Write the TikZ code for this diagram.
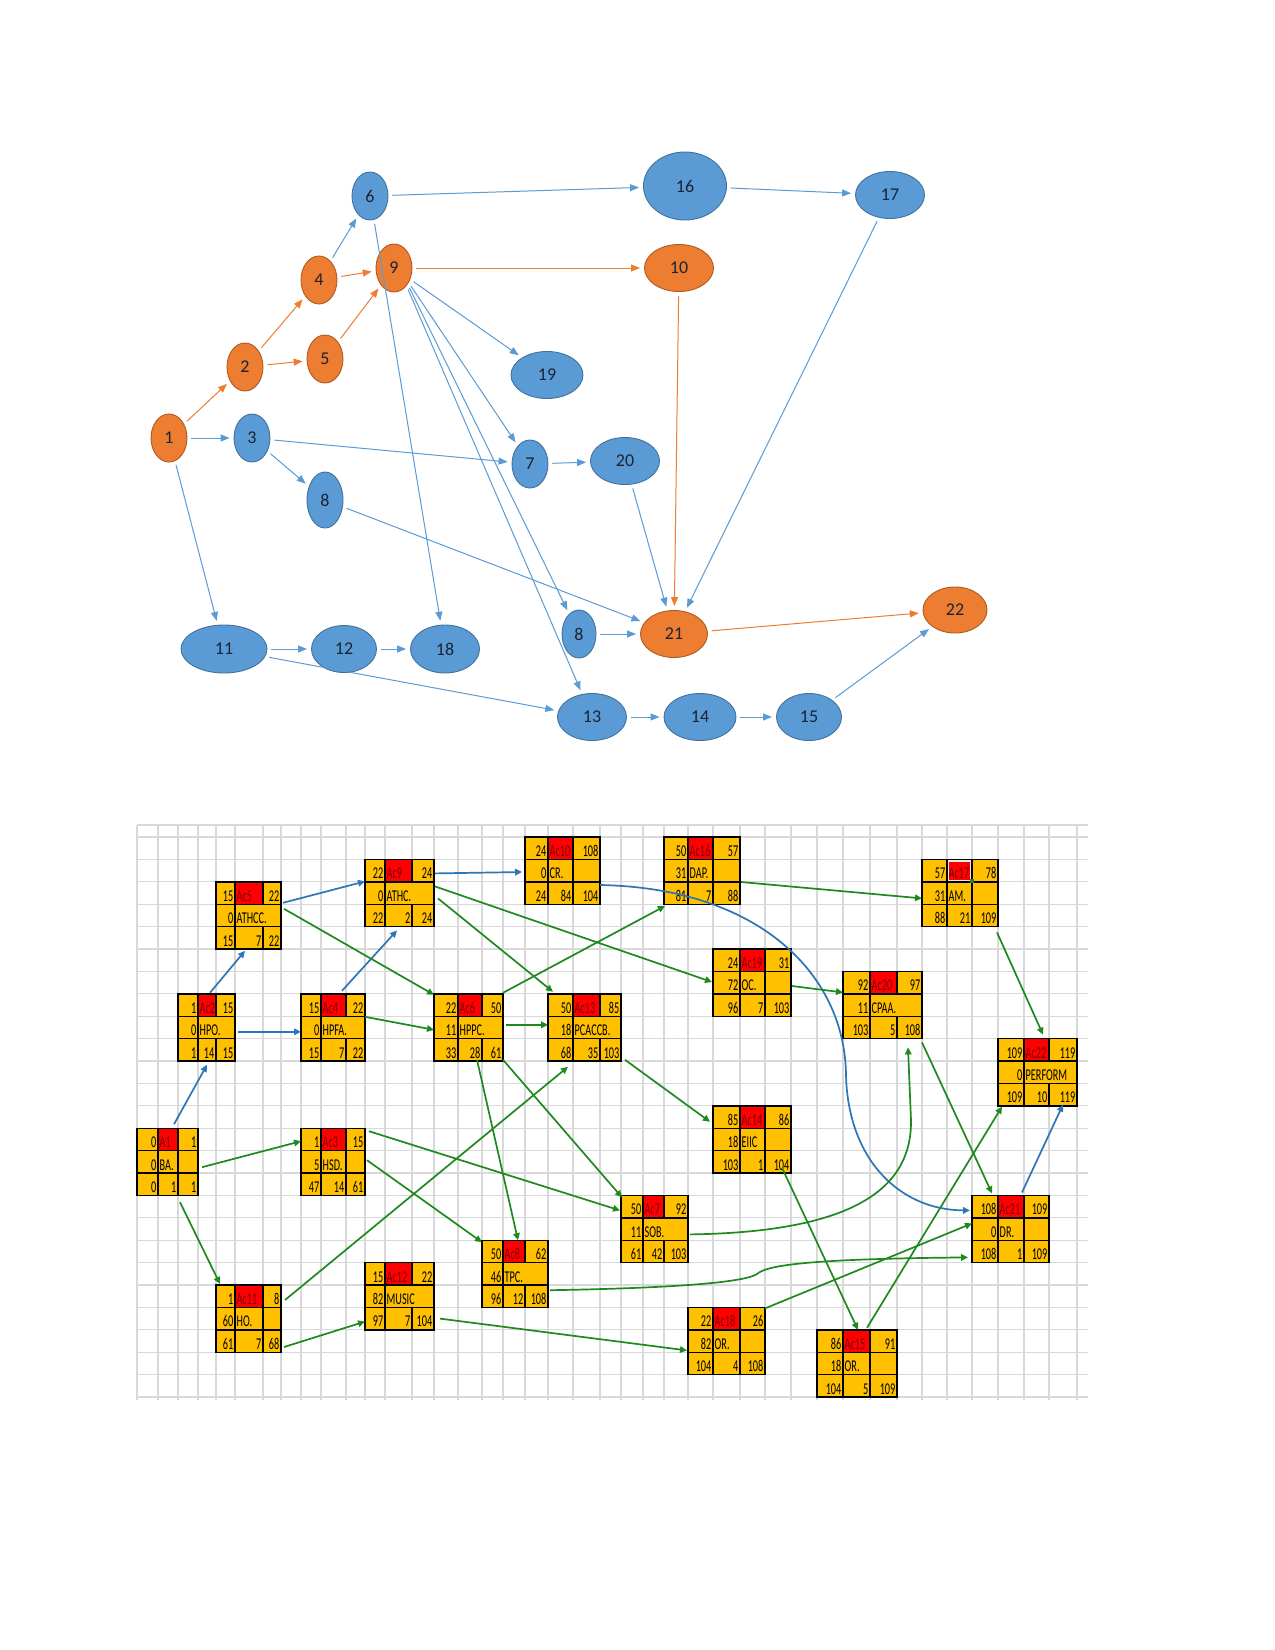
\documentclass[tikz,border=0pt]{standalone}
\usepackage{fontspec}
\setmainfont{Carlito}
\newfontfamily\cellfont{Carlito}[FakeStretch=0.62]
\usetikzlibrary{shapes.geometric,arrows.meta,calc}
\definecolor{nblue}{HTML}{5B9BD5}
\definecolor{nblueb}{HTML}{41719C}
\definecolor{norange}{HTML}{ED7D31}
\definecolor{norangeb}{HTML}{AE5A21}
\definecolor{ntext}{HTML}{1B2433}
\definecolor{cgold}{HTML}{FFC000}
\definecolor{cred}{HTML}{FF0000}
\definecolor{credtxt}{HTML}{7A0000}
\definecolor{gridc}{HTML}{D9D9D9}
\definecolor{lblue}{HTML}{2E75B6}
\definecolor{lgreen}{HTML}{1E8A1E}
\tikzset{
 ev/.style={ellipse, inner sep=0, text=ntext, font=\fontsize{18}{18}\selectfont, line width=0.9pt},
 evb/.style={ev, fill=nblue, draw=nblueb},
 evo/.style={ev, fill=norange, draw=norangeb},
 arrB/.style={draw=nblue, line width=1pt, -{Triangle[length=9pt,width=7pt]}, shorten >=4pt, shorten <=4pt},
 arrO/.style={draw=norange, line width=1pt, -{Triangle[length=9pt,width=7pt]}, shorten >=4pt, shorten <=4pt},
 arrBl/.style={draw=lblue, line width=1.7pt, -{Triangle[length=7pt,width=6.5pt]}},
 arrGr/.style={draw=lgreen, line width=1.7pt, -{Triangle[length=7pt,width=6.5pt]}},
 boxline/.style={line width=1.4pt, draw=black},
 ctxt/.style={inner sep=0, font=\cellfont\fontsize{16.5}{16.5}\selectfont, text=black},
 gridline/.style={draw=gridc, line width=1.1pt},
}
\def\bxParseFour#1,#2,#3,#4\relax{\def\bxA{#1}\def\bxB{#2}\def\bxC{#3}\def\bxD{#4}}
\def\bxParseThree#1,#2,#3\relax{\def\bxP{#1}\def\bxQ{#2}\def\bxR{#3}}
\def\bxParseTwo#1,#2\relax{\def\bxP{#1}\def\bxQ{#2}}
\newcommand\abox[7]{%
 \bxParseFour#2\relax
 \pgfmathsetmacro\byA{837+22.4*#3}%
 \pgfmathsetmacro\byB{\byA+22.4}%
 \pgfmathsetmacro\byC{\byA+44.8}%
 \pgfmathsetmacro\byD{\byA+67.2}%
 \pgfmathsetmacro\bW{\bxD-\bxA}%
 \fill[cgold] (\bxA,\byA) rectangle (\bxD,\byD);
 \fill[cred] (\bxB,\byA) rectangle (\bxC,\byB);
 \node[inner sep=0, minimum width=\bW pt, minimum height=67.2pt, anchor=north west] (#1) at (\bxA,\byA) {};
 \draw[boxline] (\bxA,\byA) rectangle (\bxD,\byD) (\bxA,\byB) -- (\bxD,\byB) (\bxA,\byC) -- (\bxD,\byC) (\bxB,\byA) -- (\bxB,\byD) (\bxC,\byA) -- (\bxC,\byB) (\bxC,\byC) -- (\bxC,\byD);
 \ifnum#7=1 \draw[boxline] (\bxC,\byB) -- (\bxC,\byC);\fi
 \bxParseThree#4\relax
 \node[ctxt, anchor=base east] (#1-a) at ({\bxB-1.5},{\byA+19.5}) {\bxP};
 \node[ctxt, anchor=base west, text=credtxt] (#1-b) at ({\bxB+1.5},{\byA+19.5}) {\bxQ};
 \node[ctxt, anchor=base east] (#1-c) at ({\bxD-1.5},{\byA+19.5}) {\bxR};
 \bxParseTwo#5\relax
 \node[ctxt, anchor=base east] (#1-d) at ({\bxB-1.5},{\byB+19.5}) {\bxP};
 \node[ctxt, anchor=base west] (#1-e) at ({\bxB+1.5},{\byB+19.5}) {\bxQ};
 \bxParseThree#6\relax
 \node[ctxt, anchor=base east] (#1-f) at ({\bxB-1.5},{\byC+19.5}) {\bxP};
 \node[ctxt, anchor=base east] (#1-g) at ({\bxC-1.5},{\byC+19.5}) {\bxQ};
 \node[ctxt, anchor=base east] (#1-h) at ({\bxD-1.5},{\byC+19.5}) {\bxR};
}
\begin{document}
\begin{tikzpicture}[x=1pt,y=-1pt]
\fill[white] (0,0) rectangle (1275,1650);
\useasboundingbox (0,0) rectangle (1275,1650);

% ---------- upper network ----------
\node[evo, minimum width=36pt, minimum height=48pt] (n1) at (169,438) {1};
\node[evo, minimum width=36pt, minimum height=48pt] (n2) at (245,367) {2};
\node[evb, minimum width=36pt, minimum height=48pt] (n3) at (252,438) {3};
\node[evo, minimum width=36pt, minimum height=48pt] (n4) at (319,280) {4};
\node[evo, minimum width=36pt, minimum height=48pt] (n5) at (325,359) {5};
\node[evb, minimum width=36pt, minimum height=48pt] (n6) at (370,196) {6};
\node[evo, minimum width=36pt, minimum height=48pt] (n9) at (394,268) {9};
\node[evb, minimum width=83pt, minimum height=68pt] (n16) at (685,186) {16};
\node[evb, minimum width=69pt, minimum height=47pt] (n17) at (890,195) {17};
\node[evo, minimum width=69pt, minimum height=47pt] (n10) at (679,268) {10};
\node[evb, minimum width=72pt, minimum height=47pt] (n19) at (547,375) {19};
\node[evb, minimum width=36pt, minimum height=48pt] (n7) at (530,464) {7};
\node[evb, minimum width=69pt, minimum height=47pt] (n20) at (625,461) {20};
\node[evb, minimum width=36pt, minimum height=56pt] (n8a) at (325,500) {8};
\node[evb, minimum width=86pt, minimum height=48pt] (n11) at (224,649) {11};
\node[evb, minimum width=65pt, minimum height=47pt] (n12) at (344,649) {12};
\node[evb, minimum width=69pt, minimum height=48pt] (n18) at (445,649) {18};
\node[evb, minimum width=34pt, minimum height=48pt] (n8b) at (579,634) {8};
\node[evo, minimum width=67pt, minimum height=47pt] (n21) at (674,634) {21};
\node[evo, minimum width=64pt, minimum height=46pt] (n22) at (955,610) {22};
\node[evb, minimum width=69pt, minimum height=47pt] (n13) at (592,717) {13};
\node[evb, minimum width=72pt, minimum height=47pt] (n14) at (700,717) {14};
\node[evb, minimum width=65pt, minimum height=47pt] (n15) at (809,717) {15};

\draw[arrO] (n1) -- (n2);
\draw[arrB] (n1) -- (n3);
\draw[arrB] (n1) -- (n11);
\draw[arrO] (n2) -- (n4);
\draw[arrO] (n2) -- (n5);
\draw[arrB] (n4) -- (n6);
\draw[arrO] (n4) -- (n9);
\draw[arrO] (n5) -- (n9);
\draw[arrB] (n6) -- (n16);
\draw[arrB] (n6) -- (n18);
\draw[arrO] (n9) -- (n10);
\draw[arrB] (n9.-35) -- (n19);
\draw[arrB] (n9.-45) -- (n7);
\draw[arrB] (n9.-50) -- (n8b);
\draw[arrB] (n9.-55) -- (n13);
\draw[arrB] (n3) -- (n7);
\draw[arrB] (n3) -- (n8a);
\draw[arrB] (n16) -- (n17);
\draw[arrO] (n10) -- (n21);
\draw[arrB] (n17) -- (n21);
\draw[arrB] (n7) -- (n20);
\draw[arrB] (n20) -- (n21);
\draw[arrB] (n8a) -- (n21);
\draw[arrB] (n8b) -- (n21);
\draw[arrB] (n11) -- (n12);
\draw[arrB] (n12) -- (n18);
\draw[arrB] (n11) -- (n13);
\draw[arrB] (n13) -- (n14);
\draw[arrB] (n14) -- (n15);
\draw[arrB] (n15) -- (n22);
\draw[arrO] (n21) -- (n22);

% ---------- grid ----------
\foreach \gx in {137,158,178,198,216,235,263,281,301,321,346,365,385,412,434,458,482,503,525,548,573,600,621,643,664,688,713,740,765,791,817,843,870,897,922,947,972,998,1024,1049,1077}
  \draw[gridline] (\gx,825) -- (\gx,1400);
\draw[gridline] (137,825) -- (1088,825);
\foreach \k in {0,...,25}
  \draw[gridline] (137,{837+22.4*\k}) -- (1088,{837+22.4*\k});

% ---------- activity boxes ----------
\abox{A1}{137,158,178,198}{13}{0,A1,1}{0,BA.}{0,1,1}{1}
\abox{Ac2}{178,198,216,235}{7}{1,Ac2,15}{0,HPO.}{1,14,15}{0}
\abox{Ac3}{301,321,346,365}{13}{1,Ac3,15}{5,HSD.}{47,14,61}{1}
\abox{Ac4}{301,321,346,365}{7}{15,Ac4,22}{0,HPFA.}{15,7,22}{0}
\abox{Ac5}{216,235,263,281}{2}{15,Ac5,22}{0,ATHCC.}{15,7,22}{0}
\abox{Ac6}{434,458,482,503}{7}{22,Ac6,50}{11,HPPC.}{33,28,61}{0}
\abox{Ac7}{621,643,664,688}{16}{50,Ac7,92}{11,SOB.}{61,42,103}{0}
\abox{Ac8}{482,503,525,548}{18}{50,Ac8,62}{46,TPC.}{96,12,108}{0}
\abox{Ac9}{365,385,412,434}{1}{22,Ac9,24}{0,ATHC.}{22,2,24}{0}
\abox{Ac10}{525,548,573,600}{0}{24,Ac10,108}{0,CR.}{24,84,104}{1}
\abox{Ac11}{216,235,263,281}{20}{1,Ac11,8}{60,HO.}{61,7,68}{1}
\abox{Ac12}{365,385,412,434}{19}{15,Ac12,22}{82,MUSIC}{97,7,104}{0}
\abox{Ac13}{548,573,600,621}{7}{50,Ac13,85}{18,PCACCB.}{68,35,103}{0}
\abox{Ac14}{713,740,765,791}{12}{85,Ac14,86}{18,EIIC}{103,1,104}{1}
\abox{Ac15}{817,843,870,897}{22}{86,Ac15,91}{18,OR.}{104,5,109}{1}
\abox{Ac16}{664,688,713,740}{0}{50,Ac16,57}{31,DAP.}{81,7,88}{1}
\abox{Ac17}{922,947,972,998}{1}{57,Ac17,78}{31,AM.}{88,21,109}{1}
\abox{Ac18}{688,713,740,765}{21}{22,Ac18,26}{82,OR.}{104,4,108}{1}
\abox{Ac19}{713,740,765,791}{5}{24,Ac19,31}{72,OC.}{96,7,103}{1}
\abox{Ac20}{843,870,897,922}{6}{92,Ac20,97}{11,CPAA.}{103,5,108}{0}
\abox{Ac21}{972,998,1024,1049}{16}{108,Ac21,109}{0,DR.}{108,1,109}{1}
\abox{Ac22}{998,1024,1049,1077}{9}{109,Ac22,119}{0,PERFORM}{109,10,119}{0}
% selected cell outline on Ac17
\draw[white!85!gray, line width=1.3pt] ($(Ac17.north west)+(26.5,1.5)$) rectangle ($(Ac17.north west)+(48.5,21)$);
\fill[lgreen] ($(Ac17.north west)+(47.5,20)$) rectangle ($(Ac17.north west)+(51.5,24)$);

% ---------- links ----------
\draw[arrBl] ($(A1.north west)+(37,-4)$) -- ($(Ac2.north west)+(29,71)$);
\draw[arrBl] ($(Ac2.north west)+(32,-1)$) -- ($(Ac5.north west)+(29,69)$);
\draw[arrBl] ($(Ac2.north west)+(60,38)$) -- ($(Ac4.north west)+(0,38)$);
\draw[arrBl] ($(Ac5.north west)+(67,21)$) -- ($(Ac9.north west)+(0,22)$);
\draw[arrBl] ($(Ac4.north west)+(41,-3)$) -- ($(Ac9.north west)+(32,71)$);
\draw[arrBl] ($(Ac9.north west)+(70,14)$) -- ($(Ac10.north west)+(-3,35)$);
\draw[arrBl] ($(Ac10.north west)+(75,48)$) .. controls (760,888) and (845,975) .. (846,1075) .. controls (848,1160) and (900,1210) .. ($(Ac21.north west)+(-2,15)$);
\draw[arrBl] ($(Ac21.north west)+(50,-3)$) -- ($(Ac22.north west)+(65,66)$);

\draw[arrGr] ($(Ac5.north west)+(68,27)$) -- ($(Ac6.north west)+(0,1)$);
\draw[arrGr] ($(Ac4.north west)+(64,23)$) -- ($(Ac6.north west)+(0,36)$);
\draw[arrGr] ($(Ac9.north west)+(73,39)$) -- ($(Ac13.north west)+(5,-2)$);
\draw[arrGr] ($(Ac9.north west)+(70,27)$) -- ($(Ac19.north west)+(-1,33)$);
\draw[arrGr] ($(Ac6.north west)+(69,-1)$) -- ($(Ac16.north west)+(1,69)$);
\draw[arrGr] ($(Ac6.north west)+(72,31)$) -- ($(Ac13.north west)+(0,31)$);
\draw[arrGr] ($(Ac16.north west)+(77,45)$) -- ($(Ac17.north west)+(0,39)$);
\draw[arrGr] ($(Ac19.north west)+(79,37)$) -- ($(Ac20.north west)+(0,21)$);
\draw[arrGr] ($(Ac17.north west)+(75,73)$) -- ($(Ac22.north west)+(45,-4)$);
\draw[arrGr] ($(Ac13.north west)+(77,66)$) -- ($(Ac14.north west)+(-3,16)$);
\draw[arrGr] ($(Ac20.north west)+(79,71)$) -- ($(Ac21.north west)+(20,-2)$);
\draw[arrGr] ($(A1.north west)+(65,39)$) -- ($(Ac3.north west)+(0,13)$);
\draw[arrGr] ($(A1.north west)+(43,74)$) -- ($(Ac11.north west)+(4,-1)$);
\draw[arrGr] ($(Ac3.north west)+(68,3)$) -- ($(Ac7.north west)+(-1,15)$);
\draw[arrGr] ($(Ac3.north west)+(66,32)$) -- ($(Ac8.north west)+(0,2)$);
\draw[arrGr] ($(Ac11.north west)+(69,15)$) -- ($(Ac13.north west)+(20,73)$);
\draw[arrGr] ($(Ac11.north west)+(68,62)$) -- ($(Ac12.north west)+(0,59)$);
\draw[arrGr] ($(Ac6.north west)+(43,66)$) -- ($(Ac8.north west)+(36,0)$);
\draw[arrGr] ($(Ac6.north west)+(69,66)$) -- ($(Ac7.north west)+(1,2)$);
\draw[arrGr] ($(Ac7.north west)+(69,39)$) .. controls (860,1232) and (912,1185) .. (911,1120) -- ($(Ac20.north west)+(65,76)$);
\draw[arrGr] ($(Ac8.north west)+(68,50)$) .. controls (680,1288) and (745,1282) .. (757,1274) .. controls (766,1266) and (800,1259) .. ($(Ac21.north west)+(-4,62)$);
\draw[arrGr] ($(Ac12.north west)+(75,56)$) -- ($(Ac18.north west)+(-1,43)$);
\draw[arrGr] ($(Ac18.north west)+(77,1)$) -- ($(Ac21.north west)+(0,28)$);
\draw[arrGr] ($(Ac14.north west)+(69,62)$) -- ($(Ac15.north west)+(41,0)$);
\draw[arrGr] ($(Ac15.north west)+(50,-2)$) -- ($(Ac22.north west)+(4,68)$);
\end{tikzpicture}
\end{document}
